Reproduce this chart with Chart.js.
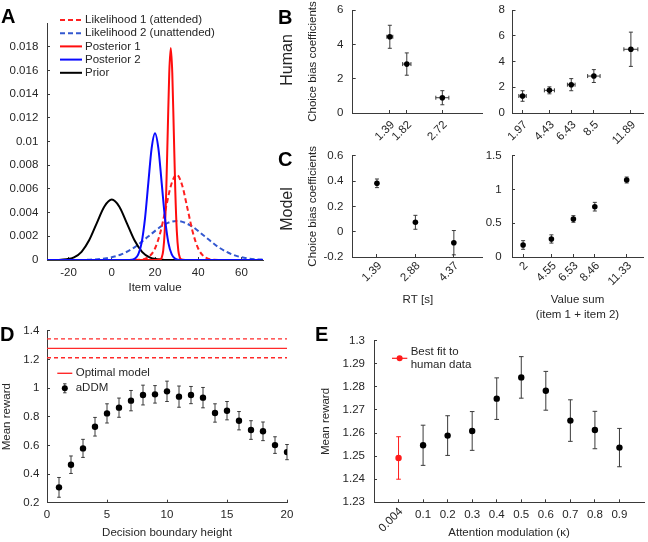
<!DOCTYPE html>
<html>
<head>
<meta charset="utf-8">
<script src="https://cdn.jsdelivr.net/npm/chart.js@4.4.1/dist/chart.umd.min.js"></script>
<style>
	body { margin: 0; background: #fff; }
	#fig { position: relative; width: 648px; height: 542px; font-family: "Liberation Sans", Arial, sans-serif; color: #262626; overflow: hidden; }
	#fig canvas { position: absolute; left: 0; top: 0; }
	.panel { position: absolute; font-weight: bold; font-size: 20px; line-height: 20px; color: #000; }
	.side { position: absolute; font-size: 16px; white-space: nowrap; transform: translate(-50%, -50%) rotate(-90deg); }
</style>
</head>
<body>
<div id="fig">
	<canvas id="chartA" width="648" height="542"></canvas>
	<canvas id="chartB1" width="648" height="542"></canvas>
	<canvas id="chartB2" width="648" height="542"></canvas>
	<canvas id="chartC1" width="648" height="542"></canvas>
	<canvas id="chartC2" width="648" height="542"></canvas>
	<canvas id="chartD" width="648" height="542"></canvas>
	<canvas id="chartE" width="648" height="542"></canvas>
	<div class="panel" style="left:1px;top:6px">A</div>
	<div class="panel" style="left:278px;top:7px">B</div>
	<div class="panel" style="left:278px;top:149px">C</div>
	<div class="panel" style="left:0px;top:324px">D</div>
	<div class="panel" style="left:315px;top:324px">E</div>
	<div class="side" style="left:287px;top:60px">Human</div>
	<div class="side" style="left:287px;top:209px">Model</div>
</div>
<script>
// ---- panel A: prior, likelihoods and posteriors over item value
const priorX = [-30, -24.5, -21, -17.5, -14, -10.5, -7, -3.5, 0, 3.5, 7, 10.5, 14, 17.5, 21, 24.5, 30, 45];
const priorY = [0, 0.00001, 0.00006, 0.00022, 0.00069, 0.00166, 0.00309, 0.0045, 0.0051, 0.0045, 0.00309, 0.00166, 0.00069, 0.00022, 0.00006, 0.00001, 0, 0];
const lik1X = [-30, 10, 12.5, 15, 17.5, 20, 22.5, 25, 27.5, 30, 32.5, 35, 37.5, 40, 42.5, 45, 47.5, 50, 70];
const lik1Y = [0, 0, 0.000016, 0.00008, 0.00032, 0.00097, 0.00234, 0.00437, 0.00635, 0.0072, 0.00635, 0.00437, 0.00234, 0.00097, 0.00032, 0.00008, 0.000016, 0, 0];
const lik2X = [-30, -15, -9, -2.5, 4, 10.5, 17, 23.5, 30, 36.5, 43, 49.5, 56, 62.5, 69, 70];
const lik2Y = [0, 0, 0.000037, 0.000145, 0.000447, 0.00107, 0.002, 0.00291, 0.0033, 0.00291, 0.002, 0.00107, 0.000447, 0.000145, 0.000037, 0.00003];
const post1X = [-30, 20, 22.4, 23.1, 23.8, 24.5, 25.2, 25.9, 26.6, 27.3, 28, 28.7, 29.4, 30.1, 30.8, 31.5, 32.2, 34, 70];
const post1Y = [0, 0, 0.00004, 0.0002, 0.00079, 0.00242, 0.00581, 0.01086, 0.0158, 0.0179, 0.0158, 0.01086, 0.00581, 0.00242, 0.00079, 0.0002, 0.00004, 0, 0];
const post2X = [-30, 7, 9.15, 10.7, 12.25, 13.8, 15.35, 16.9, 18.45, 20, 21.55, 23.1, 24.65, 26.2, 27.75, 29.3, 30.85, 33, 70];
const post2Y = [0, 0, 0.000024, 0.000118, 0.00047, 0.00145, 0.00347, 0.00649, 0.00944, 0.0107, 0.00944, 0.00649, 0.00347, 0.00145, 0.00047, 0.000118, 0.000024, 0, 0];
const valueTicks = [-20, 0, 20, 40, 60];
const densityTicks = [0, 0.002, 0.004, 0.006, 0.008, 0.01, 0.012, 0.014, 0.016, 0.018];

// ---- panel B: human choice bias coefficients
const humanRt = [1.39, 1.82, 2.72];
const humanRtErr = [0.076, 0.105, 0.165];
const humanRtCoef = [4.44, 2.85, 0.89];
const humanRtCoefErr = [0.67, 0.65, 0.41];
const humanSum = [1.97, 4.43, 6.43, 8.5, 11.89];
const humanSumErr = [0.34, 0.46, 0.35, 0.57, 0.64];
const humanSumCoef = [1.32, 1.76, 2.2, 2.87, 4.95];
const humanSumCoefErr = [0.41, 0.27, 0.47, 0.5, 1.33];
const humanRtTicks = [0, 2, 4, 6];
const humanSumTicks = [0, 2, 4, 6, 8];

// ---- panel C: model choice bias coefficients
const modelRt = [1.39, 2.88, 4.37];
const modelRtCoef = [0.382, 0.074, -0.087];
const modelRtCoefErr = [0.034, 0.055, 0.096];
const modelSum = [2, 4.55, 6.53, 8.46, 11.33];
const modelSumCoef = [0.178, 0.267, 0.563, 0.745, 1.14];
const modelSumCoefErr = [0.064, 0.061, 0.049, 0.064, 0.044];
const modelRtTicks = [-0.2, 0, 0.2, 0.4, 0.6];
const modelSumTicks = [0, 0.5, 1, 1.5];

// ---- panel D: mean reward vs decision boundary
const boundary = [1, 2, 3, 4, 5, 6, 7, 8, 9, 10, 11, 12, 13, 14, 15, 16, 17, 18, 19, 20];
const boundaryReward = [0.307, 0.465, 0.579, 0.73, 0.823, 0.863, 0.912, 0.951, 0.956, 0.977, 0.94, 0.951, 0.933, 0.826, 0.842, 0.772, 0.707, 0.698, 0.602, 0.553];
const boundaryRewardErr = [0.069, 0.061, 0.063, 0.065, 0.067, 0.067, 0.071, 0.069, 0.061, 0.071, 0.074, 0.06, 0.071, 0.064, 0.064, 0.064, 0.065, 0.065, 0.058, 0.053];
const optimalReward = 1.277;
const optimalRewardErr = 0.066;
const boundaryTicks = [0, 5, 10, 15, 20];
const rewardTicksD = [0.2, 0.4, 0.6, 0.8, 1, 1.2, 1.4];

// ---- panel E: mean reward vs attention modulation
const kappaLabels = ["0.004", "0.1", "0.2", "0.3", "0.4", "0.5", "0.6", "0.7", "0.8", "0.9"];
const kappaReward = [1.2492, 1.2547, 1.2589, 1.2609, 1.2749, 1.2841, 1.2783, 1.2654, 1.2613, 1.2537];
const kappaRewardErr = [0.0092, 0.0087, 0.0086, 0.0084, 0.009, 0.009, 0.0084, 0.009, 0.0081, 0.0083];
const rewardTicksE = [1.23, 1.24, 1.25, 1.26, 1.27, 1.28, 1.29, 1.3];

const W = 648, H = 542;
const FONT = '"Liberation Sans", Arial, sans-serif';
const INK = "#262626";
const AXIS = "#3a3a3a";

Chart.defaults.font.family = FONT;
Chart.defaults.font.size = 11.5;
Chart.defaults.color = INK;
Chart.defaults.animation = false;
Chart.defaults.plugins.legend.display = false;
Chart.defaults.plugins.tooltip.enabled = false;

let pts = (xs, ys) => xs.map((x, i) => ({ x: x, y: ys[i] }));
let num = v => String(+(+v).toFixed(4));

// error bars drawn under the markers, through the chart scales
const errorBars = {
	id: "errorBars",
	beforeDatasetsDraw(chart, args, opts) {
		const { ctx, scales: { x, y } } = chart;
		const cap = opts.cap || 2;
		chart.data.datasets.forEach(ds => {
			if (!ds.errY && !ds.errX) return;
			ctx.save();
			ctx.strokeStyle = ds.errColor || AXIS;
			ctx.lineWidth = 1;
			ctx.beginPath();
			ds.data.forEach((p, i) => {
				const px = x.getPixelForValue(p.x), py = y.getPixelForValue(p.y);
				if (ds.errY) {
					const t = y.getPixelForValue(p.y + ds.errY[i]), b = y.getPixelForValue(p.y - ds.errY[i]);
					ctx.moveTo(px, t); ctx.lineTo(px, b);
					ctx.moveTo(px - cap, t); ctx.lineTo(px + cap, t);
					ctx.moveTo(px - cap, b); ctx.lineTo(px + cap, b);
				}
				if (ds.errX) {
					const l = x.getPixelForValue(p.x - ds.errX[i]), r = x.getPixelForValue(p.x + ds.errX[i]);
					ctx.moveTo(l, py); ctx.lineTo(r, py);
					ctx.moveTo(l, py - cap); ctx.lineTo(l, py + cap);
					ctx.moveTo(r, py - cap); ctx.lineTo(r, py + cap);
				}
			});
			ctx.stroke();
			ctx.restore();
		});
	}
};

// small hand-placed legend box
const keyBox = {
	id: "keyBox",
	afterDraw(chart, args, opts) {
		if (!opts.items) return;
		const ctx = chart.ctx;
		ctx.save();
		ctx.font = "11.5px " + FONT;
		ctx.textBaseline = "middle";
		opts.items.forEach((it, i) => {
			const y = opts.y + i * opts.dy;
			const x0 = opts.sample[0], x1 = opts.sample[1], xm = (x0 + x1) / 2;
			ctx.strokeStyle = it.color;
			ctx.beginPath();
			if (it.kind === "vbar") {
				ctx.lineWidth = 1;
				ctx.moveTo(xm, y - 4.5); ctx.lineTo(xm, y + 4.5);
				ctx.moveTo(xm - 1.7, y - 4.5); ctx.lineTo(xm + 1.7, y - 4.5);
				ctx.moveTo(xm - 1.7, y + 4.5); ctx.lineTo(xm + 1.7, y + 4.5);
			} else {
				ctx.lineWidth = it.width || 2;
				ctx.setLineDash(it.dash || []);
				ctx.moveTo(x0, y); ctx.lineTo(x1, y);
			}
			ctx.stroke();
			ctx.setLineDash([]);
			if (it.dot) {
				ctx.fillStyle = it.dot;
				ctx.beginPath();
				ctx.arc(xm, y, 3, 0, 2 * Math.PI);
				ctx.fill();
			}
			ctx.fillStyle = INK;
			const lines = [].concat(it.label);
			lines.forEach((t, k) => ctx.fillText(t, opts.textX, y + (k - (lines.length - 1) / 2) * opts.lineH));
		});
		ctx.restore();
	}
};

// one slanted tick label (panel E, first category)
const slantTick = {
	id: "slantTick",
	afterDraw(chart, args, opts) {
		if (!opts.text) return;
		const ctx = chart.ctx, s = chart.scales.x;
		ctx.save();
		ctx.font = "11.5px " + FONT;
		ctx.fillStyle = INK;
		ctx.translate(s.getPixelForValue(opts.value) + opts.dx, s.top + opts.dy);
		ctx.rotate(-Math.PI / 4);
		ctx.textAlign = "right";
		ctx.textBaseline = "middle";
		ctx.fillText(opts.text, 0, 0);
		ctx.restore();
	}
};

Chart.register(errorBars, keyBox, slantTick);

// places the plot area at box = [left, top, right, bottom] in page pixels
let place = (box, yw, xh) => ({ padding: { left: box[0] - yw, top: box[1], right: W - box[2], bottom: H - box[3] - xh } });

let axis = function (o) {
	const vertical = o.pos === "left";
	return {
		type: "linear",
		position: o.pos,
		min: o.min,
		max: o.max,
		border: { display: true, color: AXIS, width: 1 },
		grid: { display: true, drawOnChartArea: false, drawTicks: true, tickLength: -3, color: AXIS },
		ticks: {
			padding: o.pad,
			autoSkip: false,
			maxRotation: o.rot || 0,
			minRotation: o.rot || 0,
			labelOffset: o.shift || 0,
			callback: o.cb || num
		},
		title: o.title ? {
			display: true,
			text: o.title,
			padding: 0,
			color: INK,
			font: { size: 11.5, lineHeight: o.titleLH || 1.2 }
		} : { display: false },
		afterBuildTicks: s => { s.ticks = o.ticks.map(v => ({ value: v })); },
		afterFit: vertical
			? s => { s.width = o.size; s.paddingTop = 0; s.paddingBottom = 0; }
			: s => { s.height = o.size; s.paddingLeft = 0; s.paddingRight = 0; }
	};
};

let curve = (label, xs, ys, color, dash, order) => ({
	label: label,
	data: pts(xs, ys),
	showLine: true,
	borderColor: color,
	borderWidth: 2,
	borderDash: dash || [],
	pointRadius: 0,
	cubicInterpolationMode: "monotone",
	order: order
});

let dots = (xs, ys, errY, errX, color, r) => ({
	data: pts(xs, ys),
	errY: errY,
	errX: errX,
	errColor: color === "#000" ? AXIS : color,
	pointRadius: r,
	pointBackgroundColor: color,
	pointBorderColor: color,
	pointBorderWidth: 0
});

// ---- A
new Chart("chartA", {
	type: "scatter",
	data: {
		datasets: [
			curve("Posterior 2", post2X, post2Y, "#0a0aff", null, 0),
			curve("Posterior 1", post1X, post1Y, "#ff0d0d", null, 1),
			curve("Prior", priorX, priorY, "#000", null, 2),
			curve("Likelihood 1 (attended)", lik1X, lik1Y, "#ff2020", [5, 3], 3),
			curve("Likelihood 2 (unattended)", lik2X, lik2Y, "#3358d0", [5, 3], 4)
		]
	},
	options: {
		responsive: false,
		layout: place([47, 23, 263, 260], 45, 34.9),
		scales: {
			x: axis({ pos: "bottom", min: -30, max: 70, ticks: valueTicks, pad: 9.1, size: 34.9, title: "Item value" }),
			y: axis({ pos: "left", min: 0, max: 0.02, ticks: densityTicks, pad: 11.7, size: 45 })
		},
		plugins: {
			keyBox: {
				y: 20, dy: 13.2, sample: [60, 82], textX: 85, lineH: 13,
				items: [
					{ color: "#ff2020", dash: [5, 3], label: "Likelihood 1 (attended)" },
					{ color: "#3358d0", dash: [5, 3], label: "Likelihood 2 (unattended)" },
					{ color: "#ff0d0d", label: "Posterior 1" },
					{ color: "#0a0aff", label: "Posterior 2" },
					{ color: "#000", label: "Prior" }
				]
			}
		}
	}
});

// ---- B (human)
new Chart("chartB1", {
	type: "scatter",
	data: { datasets: [dots(humanRt, humanRtCoef, humanRtCoefErr, humanRtErr, "#000", 2.8)] },
	options: {
		responsive: false,
		layout: place([352.7, 10, 483, 113], 46.6, 40),
		scales: {
			x: axis({ pos: "bottom", min: 0.45, max: 3.75, ticks: humanRt, pad: 8, rot: 45, shift: 3, size: 40 }),
			y: axis({ pos: "left", min: 0, max: 6, ticks: humanRtTicks, pad: 12.4, size: 46.6, title: "Choice bias coefficients" })
		}
	}
});

new Chart("chartB2", {
	type: "scatter",
	data: { datasets: [dots(humanSum, humanSumCoef, humanSumCoefErr, humanSumErr, "#000", 2.8)] },
	options: {
		responsive: false,
		layout: place([512.5, 10, 643, 113], 30, 40),
		scales: {
			x: axis({ pos: "bottom", min: 1.05, max: 13, ticks: humanSum, pad: 8, rot: 45, shift: 3, size: 40 }),
			y: axis({ pos: "left", min: 0, max: 8, ticks: humanSumTicks, pad: 10.5, size: 30 })
		}
	}
});

// ---- C (model)
new Chart("chartC1", {
	type: "scatter",
	data: { datasets: [dots(modelRt, modelRtCoef, modelRtCoefErr, null, "#000", 2.8)] },
	options: {
		responsive: false,
		layout: place([352.7, 155.7, 483, 257], 46.6, 49.9),
		scales: {
			x: axis({ pos: "bottom", min: 0.45, max: 5.5, ticks: modelRt, pad: 5, rot: 45, shift: 3, size: 49.9, title: "RT [s]" }),
			y: axis({ pos: "left", min: -0.2, max: 0.6, ticks: modelRtTicks, pad: 12.4, size: 46.6, title: "Choice bias coefficients" })
		}
	}
});

new Chart("chartC2", {
	type: "scatter",
	data: { datasets: [dots(modelSum, modelSumCoef, modelSumCoefErr, null, "#000", 2.8)] },
	options: {
		responsive: false,
		layout: place([512, 155.7, 643, 257], 30, 65.5),
		scales: {
			x: axis({ pos: "bottom", min: 1, max: 12.8, ticks: modelSum, pad: 5, rot: 45, shift: 3, size: 65.5, title: ["Value sum", "(item 1 + item 2)"], titleLH: 1.3 }),
			y: axis({ pos: "left", min: 0, max: 1.5, ticks: modelSumTicks, pad: 13.3, size: 30 })
		}
	}
});

// ---- D
let flat = (v, dash) => ({
	data: [{ x: boundaryTicks[0], y: v }, { x: boundaryTicks[boundaryTicks.length - 1], y: v }],
	showLine: true,
	borderColor: "#ff2a2a",
	borderWidth: 1.4,
	borderDash: dash || [],
	pointRadius: 0
});

new Chart("chartD", {
	type: "scatter",
	data: {
		datasets: [
			dots(boundary, boundaryReward, boundaryRewardErr, null, "#000", 3.2),
			flat(optimalReward),
			flat(optimalReward + optimalRewardErr, [4, 3]),
			flat(optimalReward - optimalRewardErr, [4, 3])
		]
	},
	options: {
		responsive: false,
		layout: place([47, 330.7, 287, 502.7], 47, 37.5),
		scales: {
			x: axis({ pos: "bottom", min: 0, max: 20, ticks: boundaryTicks, pad: 8.4, size: 37.5, title: "Decision boundary height" }),
			y: axis({ pos: "left", min: 0.2, max: 1.4, ticks: rewardTicksD, pad: 10.7, size: 47, title: "Mean reward" })
		},
		plugins: {
			errorBars: { cap: 1.8 },
			keyBox: {
				y: 373.3, dy: 15, sample: [57.3, 72.3], textX: 75.7, lineH: 13,
				items: [
					{ color: "#ff2a2a", width: 1.4, label: "Optimal model" },
					{ color: AXIS, kind: "vbar", dot: "#000", label: "aDDM" }
				]
			}
		}
	}
});

// ---- E
let kappaPos = kappaLabels.map((k, i) => i + 1);

new Chart("chartE", {
	type: "scatter",
	data: {
		datasets: [
			dots(kappaPos.slice(0, 1), kappaReward.slice(0, 1), kappaRewardErr.slice(0, 1), null, "#ff1a1a", 3.2),
			dots(kappaPos.slice(1), kappaReward.slice(1), kappaRewardErr.slice(1), null, "#000", 3.2)
		]
	},
	options: {
		responsive: false,
		layout: place([374, 340.7, 646, 502.3], 54.9, 37.9),
		scales: {
			x: axis({
				pos: "bottom", min: 0, max: kappaLabels.length + 1, ticks: kappaPos, pad: 8.8, size: 37.9,
				title: "Attention modulation (\u03BA)",
				cb: v => (v === 1 ? "" : kappaLabels[v - 1])
			}),
			y: axis({ pos: "left", min: 1.23, max: 1.3, ticks: rewardTicksE, pad: 12, size: 54.9, title: "Mean reward" })
		},
		plugins: {
			errorBars: { cap: 2.3 },
			slantTick: { text: kappaLabels[0], value: 1, dx: 2.5, dy: 7.5 },
			keyBox: {
				y: 358.3, dy: 0, sample: [392, 407.3], textX: 410.7, lineH: 12.3,
				items: [
					{ color: "#ff1a1a", width: 1.2, dot: "#ff1a1a", label: ["Best fit to", "human data"] }
				]
			}
		}
	}
});
</script>
</body>
</html>
